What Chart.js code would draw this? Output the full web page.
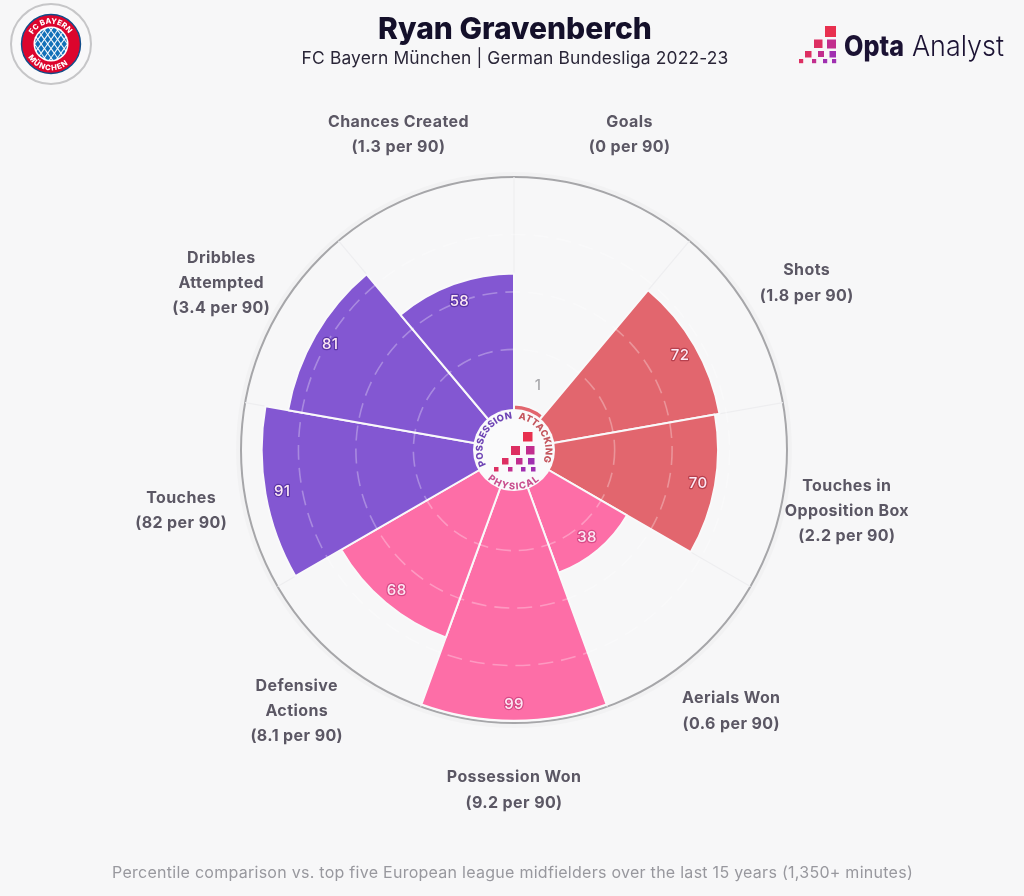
<!DOCTYPE html>
<html><head><meta charset="utf-8">
<script src="https://cdn.jsdelivr.net/npm/chart.js@4/dist/chart.umd.min.js"></script>
<style>
html,body{margin:0;padding:0;background:#f7f7f8;width:1024px;height:896px;overflow:hidden}
#wrap{position:relative;width:1024px;height:896px}
canvas{position:absolute;left:0;top:0}
svg{position:absolute;left:0;top:0;pointer-events:none}
</style></head><body>
<div id="wrap"><canvas id="c" width="1024" height="896"></canvas>
<svg id="deco" width="1024" height="896" viewBox="0 0 1024 896" xmlns="http://www.w3.org/2000/svg"></svg></div>
<script>
const categories=[["Goals"],["Shots"],["Touches in","Opposition Box"],["Aerials Won"],["Possession Won"],["Defensive","Actions"],["Touches"],["Dribbles","Attempted"],["Chances Created"]];
const perNinety=["(0 per 90)","(1.8 per 90)","(2.2 per 90)","(0.6 per 90)","(9.2 per 90)","(8.1 per 90)","(82 per 90)","(3.4 per 90)","(1.3 per 90)"];
const percentiles=[1,72,70,38,99,68,91,81,58];
const barColors=["#e2666e","#e2666e","#e2666e","#fd6ea7","#fd6ea7","#fd6ea7","#8357d2","#8357d2","#8357d2"];
const valueOutline=["#e2666e","#b8404e","#b8404e","#d84c88","#d84c88","#d84c88","#5c36a8","#5c36a8","#5c36a8"];
const ringValues=[0,25,50,75,100];
const titleText="Ryan Gravenberch";
const subtitleText="FC Bayern München | German Bundesliga 2022-23";
const footnoteText="Percentile comparison vs. top five European league midfielders over the last 15 years (1,350+ minutes)";

const FONT='Inter, Roboto, sans-serif';
const overlay={id:'overlay',
 beforeDatasetsDraw(chart){
  const s=chart.scales.r,ctx=chart.ctx;
  ctx.save();ctx.strokeStyle='rgba(0,0,0,0.02)';ctx.lineWidth=4;
  ctx.beginPath();ctx.arc(s.xCenter,s.yCenter,s.getDistanceFromCenterForValue(100)+3,0,Math.PI*2);ctx.stroke();ctx.restore();
 },
 afterDatasetsDraw(chart){
  const s=chart.scales.r,ctx=chart.ctx;
  ctx.save();
  ctx.setLineDash([15,8]);ctx.lineWidth=1.6;ctx.strokeStyle='rgba(255,255,255,0.30)';
  [25,50,75].forEach(v=>{ctx.beginPath();ctx.arc(s.xCenter,s.yCenter,s.getDistanceFromCenterForValue(v),0,Math.PI*2);ctx.stroke();});
  ctx.setLineDash([]);
  const n=percentiles.length,outer=s.getDistanceFromCenterForValue(100)+65;
  ctx.textAlign='center';ctx.textBaseline='middle';
  percentiles.forEach((v,i)=>{
   const a=s.getIndexAngle(i)+Math.PI/n-Math.PI/2;
   const rv=Math.max(s.getDistanceFromCenterForValue(v)-17,70);
   const x=s.xCenter+Math.cos(a)*rv,y=s.yCenter+Math.sin(a)*rv;
   ctx.font='500 15px '+FONT;
   ctx.letterSpacing='0.4px';
   if(v>5){ctx.lineJoin='round';ctx.lineWidth=2.4;ctx.strokeStyle=valueOutline[i];ctx.strokeText(String(v),x,y+1);ctx.fillStyle='#fde8f4';}
   else ctx.fillStyle='#a9a9ad';
   ctx.fillText(String(v),x,y+1);
   const lines=categories[i].concat(perNinety[i]);
   const lx=s.xCenter+Math.cos(a)*outer,ly=s.yCenter+Math.sin(a)*outer+2.3;
   ctx.font='700 16px '+FONT;ctx.letterSpacing='0.4px';ctx.fillStyle='#5b5764';
   lines.forEach((t,k)=>ctx.fillText(t,lx,ly+(k-(lines.length-1)/2)*25.3));
  });
  ctx.letterSpacing='0px';
  ctx.font='800 30px '+FONT;ctx.fillStyle='#14102a';ctx.fillText(titleText,515,30);
  ctx.font='400 17.4px '+FONT;ctx.fillStyle='#2a2638';ctx.letterSpacing='0.15px';ctx.fillText(subtitleText,515,59);
  ctx.font='400 16px '+FONT;ctx.fillStyle='#98989e';ctx.letterSpacing='0.27px';ctx.fillText(footnoteText,512.5,873.5);
  ctx.restore();
 }};

new Chart(document.getElementById('c'),{
 type:'polarArea',
 data:{labels:categories.map(c=>c.join(' ')),datasets:[{data:percentiles,backgroundColor:barColors,borderColor:'#f9f9fa',borderWidth:2}]},
 options:{responsive:false,animation:false,devicePixelRatio:1,
  layout:{padding:{left:241,right:237,top:177,bottom:173}},
  plugins:{legend:{display:false},tooltip:{enabled:false}},
  scales:{r:{min:-18.8,max:100,startAngle:0,
    afterBuildTicks(sc){sc.ticks=ringValues.map(value=>({value}));},
    ticks:{display:false},
    pointLabels:{display:false},
    angleLines:{display:true,color:'#eeeef0',lineWidth:1.2},
    grid:{circular:true,color:c=>c.tick&&c.tick.value===100?'#a6a6a9':'rgba(0,0,0,0)',lineWidth:c=>c.tick&&c.tick.value===100?2:0}
  }}
 },
 plugins:[overlay]
});

const NS='http://www.w3.org/2000/svg',deco=document.getElementById('deco');
function el(tag,attrs,parent,text){const e=document.createElementNS(NS,tag);for(const k in attrs)e.setAttribute(k,attrs[k]);if(text)e.textContent=text;(parent||deco).appendChild(e);return e;}
function pol(cx,cy,r,deg){const a=(deg-90)*Math.PI/180;return [cx+r*Math.cos(a),cy+r*Math.sin(a)];}
function arcPath(id,cx,cy,r,from,to,parent){const p=pol(cx,cy,r,from),q=pol(cx,cy,r,to),large=Math.abs(to-from)>180?1:0,sw=to>from?1:0;
 el('path',{id,d:`M${p[0]} ${p[1]}A${r} ${r} 0 ${large} ${sw} ${q[0]} ${q[1]}`,fill:'none'},parent);}
function arcText(id,str,cx,cy,r,from,to,size,color,len,weight){arcPath(id,cx,cy,r,from,to,defs);
 const t=el('text',{'font-family':FONT,'font-size':size,'font-weight':weight||700,fill:color});
 el('textPath',{href:'#'+id,textLength:len,lengthAdjust:'spacing',startOffset:'0'},t,str);}
const defs=el('defs',{});
function squares(list){list.forEach(s=>el('rect',{x:s[0],y:s[1],width:s[2],height:s[2],fill:s[3]}));}
const R1='#e8304f',R2='#dd2f62',M='#c22e8e',P='#a02fb0';

// club badge
el('circle',{cx:51,cy:44,r:40,fill:'#f8f8f9',stroke:'#c6c6c8','stroke-width':2});
el('circle',{cx:51,cy:44,r:29.5,fill:'#dc052d',stroke:'#0f4c8a','stroke-width':1.4});
el('circle',{cx:51,cy:44,r:17.5,fill:'#fff'});
const cp=el('clipPath',{id:'inner'},defs);el('circle',{cx:51,cy:44,r:16},cp);
const dg=el('g',{'clip-path':'url(#inner)'});
el('circle',{cx:51,cy:44,r:16,fill:'#f4f8fc'},dg);
for(let i=-5;i<=5;i++)for(let j=-5;j<=5;j++){ if(((i+j)%2+2)%2) continue;
 const x=51+i*3.3,y=44+j*4.6,w=2.6,h=3.7;
 el('path',{d:`M${x} ${y-h}L${x+w} ${y}L${x} ${y+h}L${x-w} ${y}Z`,fill:'#1270b8'},dg);}
arcText('fcb','FC BAYERN',51,44,20.4,-62,62,7.6,'#fff',43,800);
arcText('mun','MÜNCHEN',51,44,26.4,240,120,7.6,'#fff',46,800);

// Opta Analyst logo
squares([[825,26,11,R1],[814,39.5,8.5,R2],[827,39.5,9,M],[805,51,6.5,R2],[818,51,6,M],[829.5,51,6.5,P],[799,59,4.2,R2],[812,59,4.2,M],[823,59,4.2,P],[832,59,4.2,P]]);
el('text',{x:844,y:55.5,'font-family':FONT,'font-size':28,'font-weight':800,fill:'#1b1233',textLength:60,lengthAdjust:'spacingAndGlyphs'},null,'Opta');
el('text',{x:912,y:55.5,'font-family':FONT,'font-size':28,'font-weight':300,fill:'#1b1233',textLength:92,lengthAdjust:'spacingAndGlyphs'},null,'Analyst');

// centre emblem
el('circle',{cx:514,cy:450,r:41,fill:'#fafafb'});
squares([[523,432,9.5,R1],[511,446,9,R2],[526,446,8.5,M],[502,458,6.5,R2],[516,458,6.5,M],[528,458,6.5,P],[494,467,4.5,R2],[508,467,4.5,M],[521,467,4.5,P],[531,467,4.5,P]]);
arcText('poss','POSSESSION',514,450,31.5,-118,-4,9.4,'#6f45b5',63,800);
arcText('att','ATTACKING',514,450,31.5,8,112,9.4,'#c4565e',57,800);
arcText('phy','PHYSICAL',514,450,39.5,222,138,9.4,'#c9508f',56,800);
</script>
</body></html>
